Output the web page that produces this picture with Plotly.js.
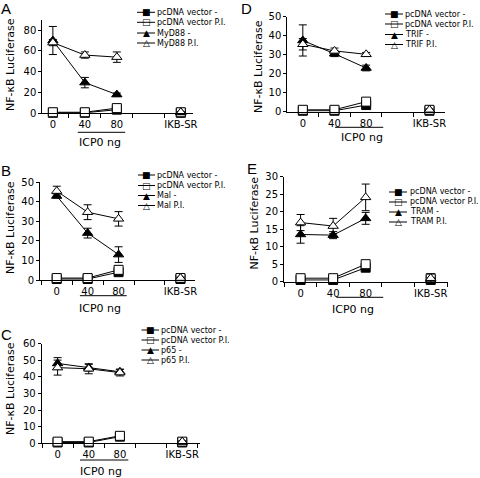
<!DOCTYPE html>
<html><head><meta charset="utf-8">
<script src="https://cdn.plot.ly/plotly-3.0.1.min.js"></script>
<style>body{margin:0;background:#fff}#chart{width:480px;height:478px}</style>
</head><body><div id="chart"></div>
<script>
// ---------- data ----------
const categories = ["0", "40", "80", " ", "IKB-SR"];

const panelLetters = ["A", "B", "C", "D", "E"];
const geneNames = ["MyD88", "Mal", "p65", "TRIF", "TRAM"];

// pcDNA vector - / P.I. (per panel)
const pcdnaNeg = [
  [0.5, 0.5, 3.5, null, 0.5],
  [0.5, 0.5, 4.0, null, 0.5],
  [0.5, 0.5, 4.0, null, 0.5],
  [0.5, 0.5, 3.5, null, 0.5],
  [0.5, 0.5, 4.0, null, 0.5]
];
const pcdnaPI = [
  [1, 1, 5.0, null, 1],
  [1, 1, 5.2, null, 1],
  [1, 1, 4.5, null, 1],
  [1, 1, 5.3, null, 1],
  [1, 1, 5.0, null, 1]
];
// gene "-" and "P.I." series with error bars
const geneNeg = [
  [70, 29.5, 18, null, 0.8],
  [43, 24, 13, null, 0.8],
  [48, 45.5, 43, null, 0.8],
  [37.5, 30.5, 23, null, 0.8],
  [13.5, 13.3, 18.1, null, 0.8]
];
const geneNegErr = [
  [13.5, 5, 1.5, null, 0.3],
  [1, 2.5, 4, null, 0.3],
  [3.5, 2, 1.5, null, 0.3],
  [8.2, 1.5, 1.5, null, 0.3],
  [2.5, 1, 1.7, null, 0.3]
];
const genePI = [
  [68, 56, 54, null, 1],
  [45.5, 34.7, 31.3, null, 1],
  [45.5, 44.8, 42.5, null, 1],
  [35.5, 32, 30.2, null, 1],
  [16.9, 15.9, 24.1, null, 1]
];
const genePIErr = [
  [3, 3, 5, null, 0.5],
  [2.5, 3.8, 3.7, null, 0.5],
  [4.5, 3, 2, null, 0.5],
  [3, 1.5, 1, null, 0.5],
  [2.3, 2.2, 3.8, null, 1.2]
];
const yMax = [90, 50, 60, 50, 30];
const yDtick = [20, 10, 10, 10, 5];

// ---------- layout geometry (pixels) ----------
const W = 480, H = 478;
const px = v => v / W, py = v => 1 - v / H;
const FONT = "DejaVu Sans";
const geom = [
  {x0: 42.3, x1: 193.3, yb: 113.3, yt: 19.7, xr: [-0.33, 4.39]},
  {x0: 40, x1: 195, yb: 280, yt: 182.3, xr: [-0.54, 4.47]},
  {x0: 41.7, x1: 200, yb: 443.3, yt: 343.5, xr: [-0.51, 4.57]},
  {x0: 287.3, x1: 445, yb: 111.7, yt: 16.7, xr: [-0.49, 4.49]},
  {x0: 284, x1: 448.3, yb: 281.7, yt: 176.7, xr: [-0.51, 4.54]}
];
const legendPos = [
  {lx0: 137, lx1: 155, mx: 146, tx: 156, ys: [12.3, 22.3, 33, 43]},
  {lx0: 138, lx1: 155, mx: 146.5, tx: 156, ys: [175, 185.5, 195.5, 205.5]},
  {lx0: 141.5, lx1: 159, mx: 150.5, tx: 160, ys: [330, 340, 350, 360]},
  {lx0: 385, lx1: 403, mx: 394, tx: 404, ys: [14, 24, 34.5, 44.5]},
  {lx0: 389, lx1: 407, mx: 398, tx: 409, ys: [192, 202, 212, 222]}
];
const letterPos = [[0, 8], [0, 170], [0, 334], [240, 8.5], [246, 168]];
const ytitlePos = [[10, 65], [10, 228], [10, 389], [258, 67], [254, 223.5]];
const icpLine = [
  {x0: 0.78, x1: 2.26, y: 132.3, tx: 1.48, ty: 142.7},
  {x0: 0.75, x1: 2.26, y: 295.7, tx: 1.4, ty: 308.5},
  {x0: 0.72, x1: 2.27, y: 460, tx: 1.38, ty: 471},
  {x0: 1.02, x1: 2.54, y: 127.3, tx: 1.86, ty: 137.7},
  {x0: 1.1, x1: 2.54, y: 297.3, tx: 1.6, ty: 309}
];

const traces = [];
const layout = {
  width: W, height: H, margin: {l: 0, r: 0, t: 0, b: 0},
  paper_bgcolor: "white", plot_bgcolor: "white", showlegend: false,
  font: {family: FONT, color: "black", size: 10},
  annotations: [], shapes: []
};

const styles = [
  {symbol: "square", fill: "black", size: 9},
  {symbol: "square", fill: "white", size: 9},
  {symbol: "triangle-up", fill: "black", size: 9},
  {symbol: "triangle-up", fill: "white", size: 9}
];
const glyphs = ["\u25A0", "\u25A1", "\u25B2", "\u25B3"];

for (let p = 0; p < 5; p++) {
  const sfx = p === 0 ? "" : String(p + 1);
  const xa = "x" + sfx, ya = "y" + sfx;
  const g = geom[p];
  const series = [
    {y: pcdnaNeg[p], err: null, name: "pcDNA vector -"},
    {y: pcdnaPI[p], err: null, name: "pcDNA vector P.I."},
    {y: geneNeg[p], err: geneNegErr[p], name: geneNames[p] + " -"},
    {y: genePI[p], err: genePIErr[p], name: geneNames[p] + " P.I."}
  ];
  series.forEach((s, i) => {
    const st = styles[i];
    const tr = {
      type: "scatter", mode: "lines+markers", x: categories, y: s.y,
      xaxis: xa, yaxis: ya, name: s.name, cliponaxis: false,
      connectgaps: false,
      line: {color: "black", width: 1},
      marker: {symbol: st.symbol, size: st.size, color: st.fill, line: {color: "black", width: 1}}
    };
    if (s.err) tr.error_y = {type: "data", array: s.err, visible: true, color: "black", thickness: 1, width: 4};
    traces.push(tr);
  });

  layout["xaxis" + sfx] = {
    domain: [px(g.x0), px(g.x1)], anchor: ya, type: "category",
    categoryorder: "array", categoryarray: categories, range: g.xr,
    tickson: "boundaries", ticks: "outside", ticklen: 4, tickcolor: "black", tickangle: 0,
    ticklabelstandoff: 2,
    showline: true, linecolor: "black", linewidth: 1, showgrid: false, zeroline: false,
    tickfont: {family: FONT, size: 10, color: "black"}, fixedrange: true
  };
  layout["yaxis" + sfx] = {
    domain: [py(g.yb), py(g.yt)], anchor: xa, range: [0, yMax[p]], dtick: yDtick[p],
    ticks: "outside", ticklen: 3, tickcolor: "black",
    showline: true, linecolor: "black", linewidth: 1, showgrid: false, zeroline: false,
    tickfont: {family: FONT, size: 10, color: "black"}, fixedrange: true
  };

  layout.annotations.push({xref: "paper", yref: "paper", x: px(letterPos[p][0]), y: py(letterPos[p][1]),
    xanchor: "left", yanchor: "middle", showarrow: false, text: panelLetters[p], borderpad: 0,
    font: {family: "Liberation Sans", size: 15, color: "black"}});
  layout.annotations.push({xref: "paper", yref: "paper", x: px(ytitlePos[p][0]), y: py(ytitlePos[p][1]),
    xanchor: "center", yanchor: "middle", showarrow: false, textangle: -90, text: "NF-\u03BAB Luciferase",
    font: {family: FONT, size: 11, color: "black"}});
  const ic = icpLine[p];
  layout.shapes.push({type: "line", xref: xa, yref: "paper", x0: ic.x0, x1: ic.x1, y0: py(ic.y), y1: py(ic.y),
    line: {color: "black", width: 1}});
  layout.annotations.push({xref: xa, yref: "paper", x: ic.tx, y: py(ic.ty), xanchor: "center", yanchor: "middle",
    showarrow: false, text: "ICP0 ng", font: {family: FONT, size: 11, color: "black"}});
  const L = legendPos[p];
  series.forEach((s, i) => {
    const y = py(L.ys[i]);
    layout.shapes.push({type: "line", xref: "paper", yref: "paper", x0: px(L.lx0), x1: px(L.lx1), y0: y, y1: y,
      line: {color: "black", width: 1}});
    layout.annotations.push({xref: "paper", yref: "paper", x: px(L.mx), y: y, xanchor: "center", yanchor: "middle",
      showarrow: false, text: glyphs[i], borderpad: 0, font: {family: FONT, size: 9, color: "black"}});
    layout.annotations.push({xref: "paper", yref: "paper", x: px(L.tx), y: y, xanchor: "left", yanchor: "middle",
      showarrow: false, text: s.name, borderpad: 0, font: {family: FONT, size: 8, color: "black"}});
  });
}

Plotly.newPlot("chart", traces, layout, {displayModeBar: false, staticPlot: true});
</script>
</body></html>
